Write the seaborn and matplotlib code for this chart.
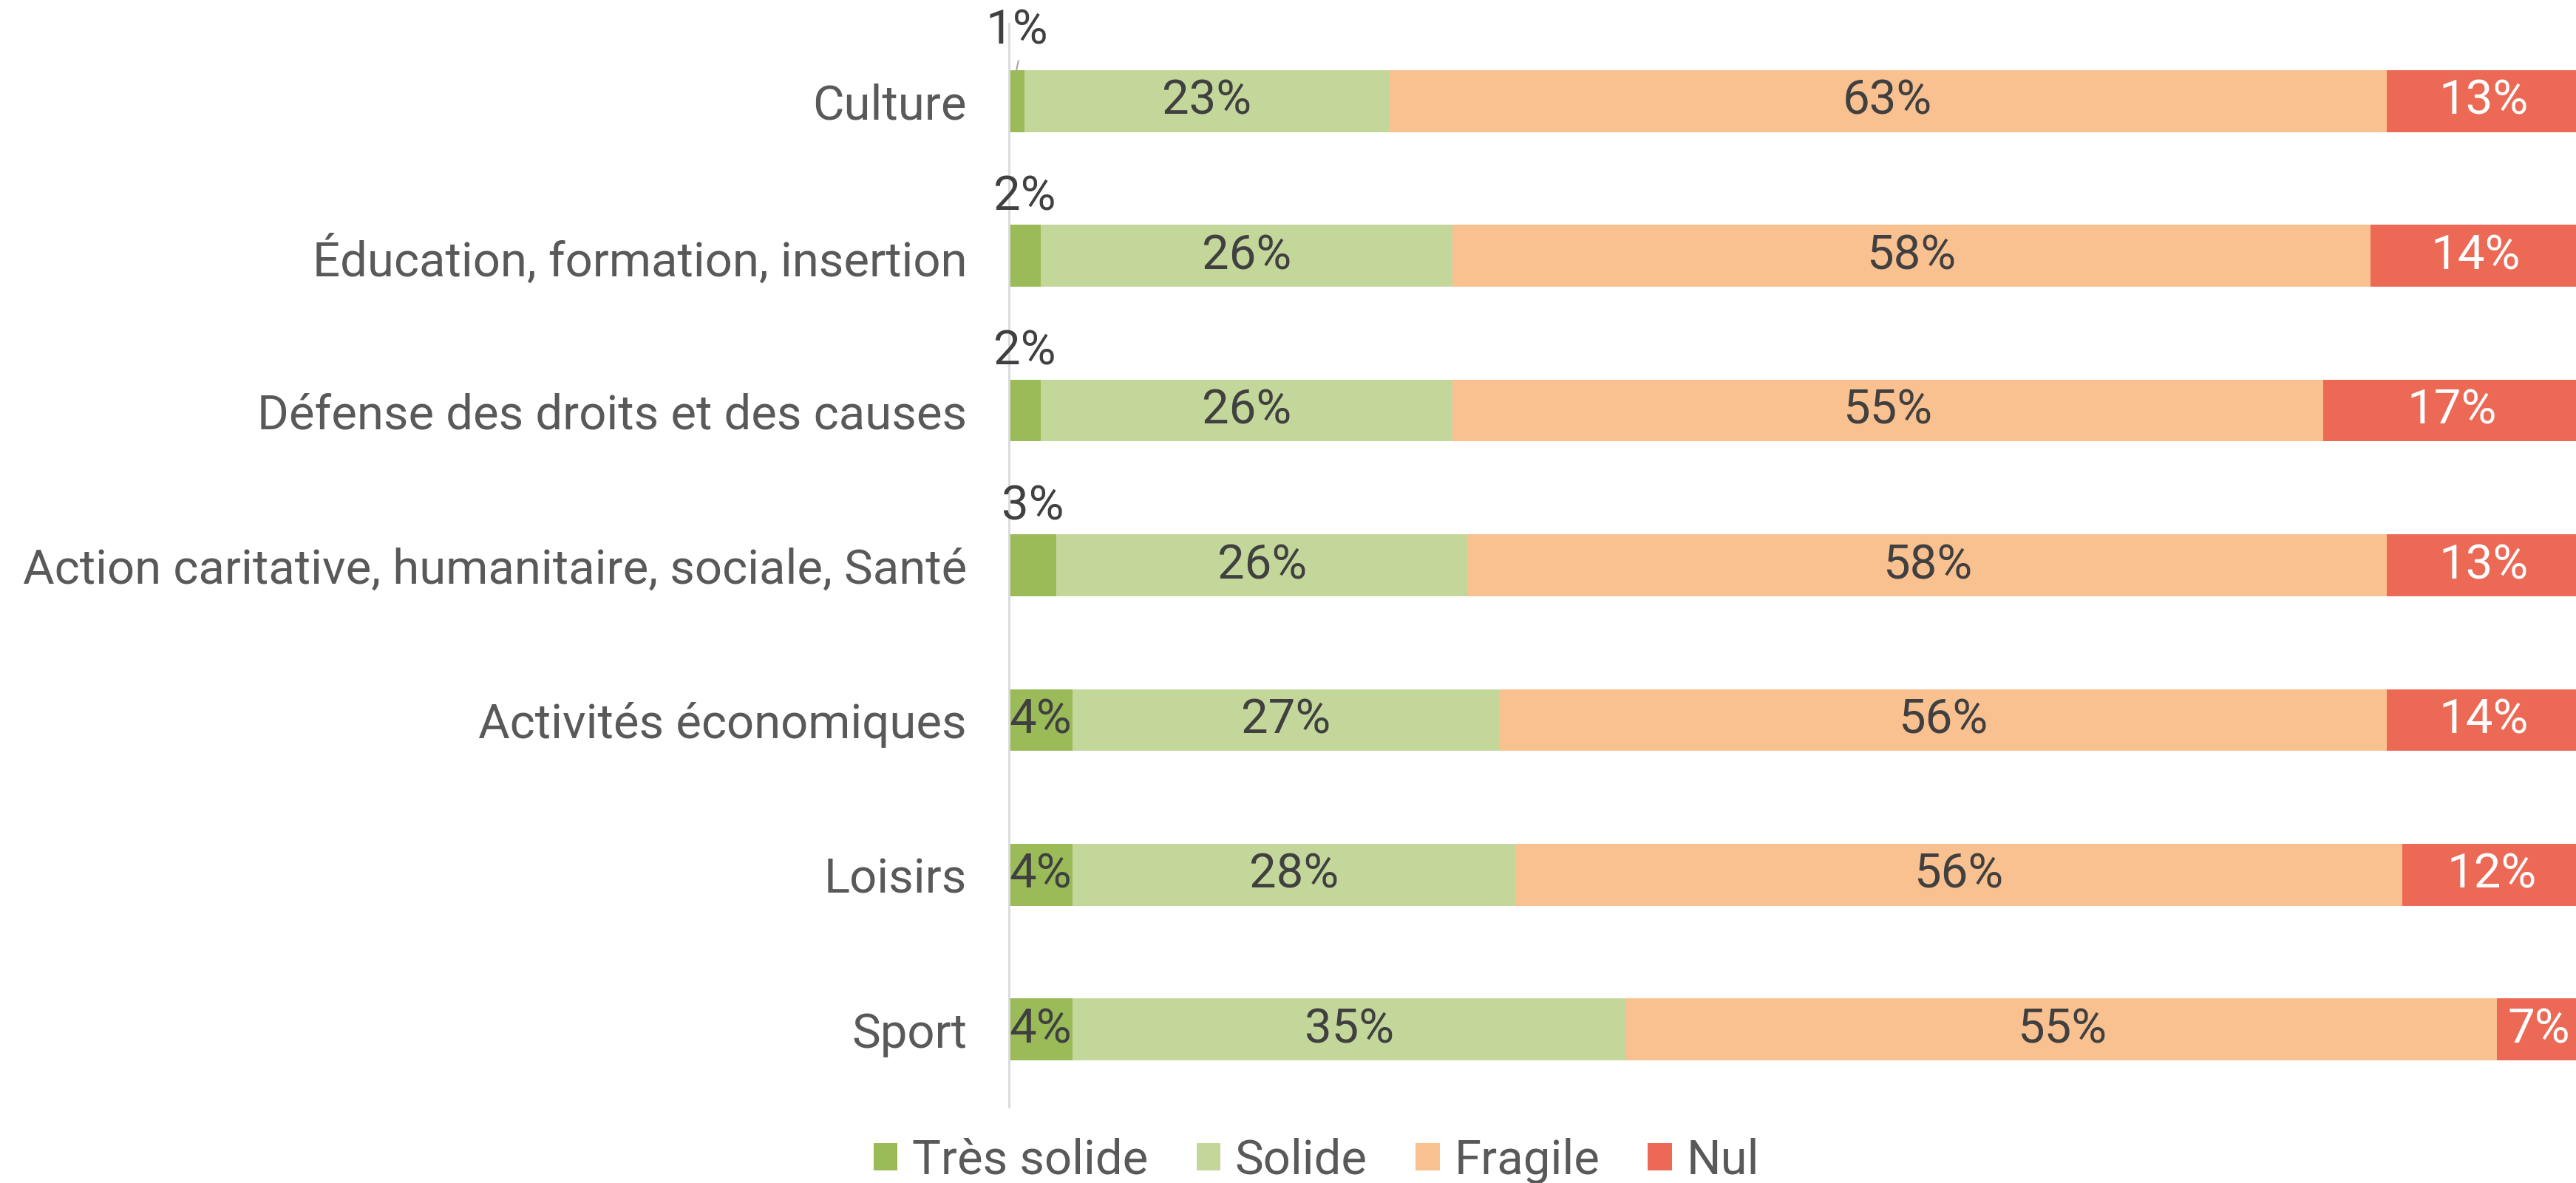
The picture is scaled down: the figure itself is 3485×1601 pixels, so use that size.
import pandas as pd
import numpy as np
import matplotlib.pyplot as plt
import seaborn as sns

sns.set_style("white")
plt.rcParams['font.family'] = ['Roboto', 'DejaVu Sans']

# data
categories = ['Culture', 'Éducation, formation, insertion', 'Défense des droits et des causes',
              'Action caritative, humanitaire, sociale, Santé', 'Activités économiques',
              'Loisirs', 'Sport']
tres_solide = [1, 2, 2, 3, 4, 4, 4]
solide = [23, 26, 26, 26, 27, 28, 35]
fragile = [63, 58, 55, 58, 56, 56, 55]
nul = [13, 14, 17, 13, 14, 12, 7]

series_names = ['Très solide', 'Solide', 'Fragile', 'Nul']
colors = ['#9BBB59', '#C4D79B', '#F9C090', '#EB6955']

df = pd.DataFrame({'cat': categories, 'Très solide': tres_solide, 'Solide': solide,
                   'Fragile': fragile, 'Nul': nul})
cum = df[series_names].cumsum(axis=1)

fig = plt.figure(figsize=(34.85, 16.01), dpi=100)
ax = fig.add_axes([1365 / 3485, 1 - 1498 / 1601, 2142 / 3485, 1466 / 1601])

# stacked bars: draw cumulative totals from the largest down
for name, col in reversed(list(zip(series_names, colors))):
    sns.barplot(x=cum[name], y=df['cat'], orient='h', color=col, width=0.4,
                ax=ax, label=name, linewidth=0, saturation=1)

ax.set_xlim(0, 100)
ax.set_ylim(6.5, -0.5)
ax.set_xlabel('')
ax.set_ylabel('')
ax.set_xticks([])
ax.tick_params(axis='y', length=0, pad=41, labelsize=47, labelcolor='#595959')
for s in ['top', 'right', 'bottom']:
    ax.spines[s].set_visible(False)
ax.spines['left'].set_color('#D9D9D9')
ax.spines['left'].set_linewidth(2)

# data labels
for i in range(len(categories)):
    left = 0
    for j, name in enumerate(series_names):
        v = df.loc[i, name]
        xc = left + v / 2
        tc = '#404040'
        if name == 'Nul':
            # centre on the visible part of the segment
            xc = (left + 99.3) / 2
            tc = 'white'
        if j == 0 and v < 4:
            dy = 0.455 if i == 0 else 0.38
            ax.text(xc, i - dy, f'{v}%', ha='center', va='center', fontsize=47, color=tc)
        else:
            ax.text(xc, i, f'{v}%', ha='center', va='center', fontsize=47, color=tc)
        left += v

# leader line for the smallest label
ax.plot([0.6, 0.47], [-0.26, -0.2], color='#A6A6A6', lw=1.5)

handles, labels = ax.get_legend_handles_labels()
order = [labels.index(n) for n in series_names]
fig.legend([handles[k] for k in order], series_names, loc='center',
           bbox_to_anchor=(1781 / 3485, 1 - 1571 / 1601), ncol=4, frameon=False,
           fontsize=47, labelcolor='#595959', handlelength=0.5, handleheight=0.5,
           handletextpad=0.3, columnspacing=1.0)
if ax.legend_:
    ax.legend_.remove()

fig.savefig('out.png', dpi=100)
